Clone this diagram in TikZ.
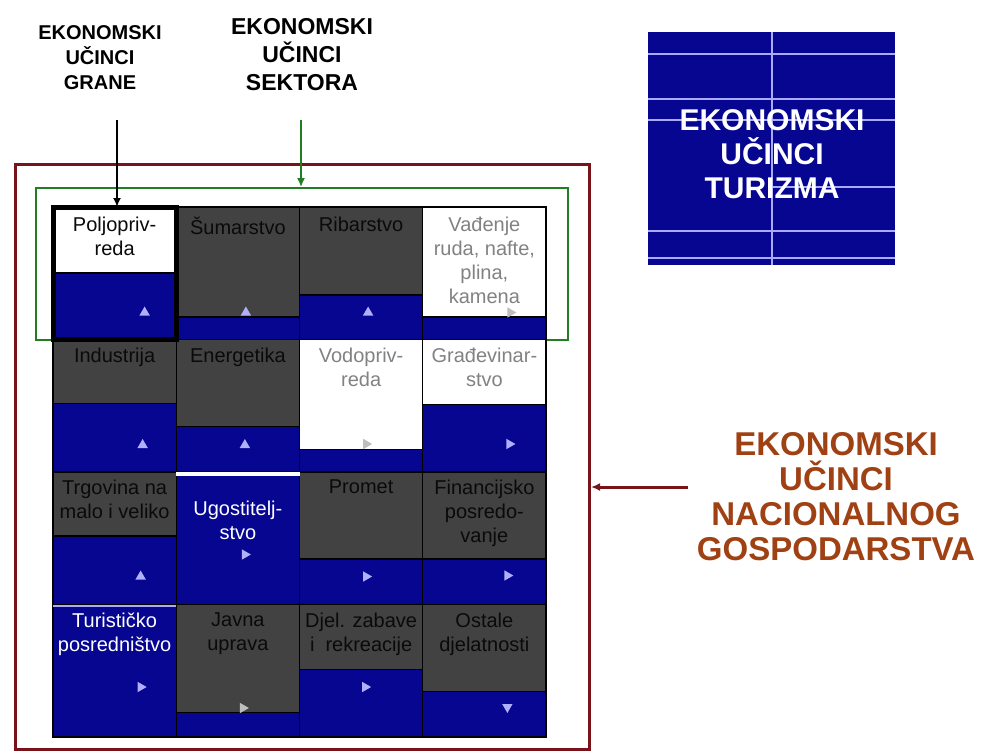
\documentclass[tikz,border=0pt]{standalone}
\usepackage{fontspec}
\setmainfont{Liberation Sans}
\usetikzlibrary{positioning,shapes.geometric,arrows.meta}
\definecolor{navyblue}{RGB}{6,6,145}
\definecolor{cellgray}{RGB}{66,66,66}
\definecolor{tipblue}{RGB}{175,175,250}
\definecolor{tipgray}{RGB}{190,190,190}
\definecolor{framered}{RGB}{120,20,25}
\definecolor{framegreen}{RGB}{35,125,35}
\definecolor{titlebrown}{RGB}{160,65,20}
\definecolor{darktext}{RGB}{10,10,10}
\definecolor{paletext}{RGB}{130,130,130}
\definecolor{linelavender}{RGB}{170,170,250}
\tikzset{
    cellnode/.style={
        rectangle,
        draw=black,
        line width=1.2pt,
        fill=navyblue,
        minimum width=123.25pt,
        minimum height=132.5pt,
        inner sep=0,
        outer sep=0
    },
    graynode/.style={
        rectangle,
        draw=black,
        line width=1.2pt,
        fill=cellgray,
        minimum width=123.25pt,
        inner sep=0,
        outer sep=0,
        anchor=north
    },
    whitenode/.style={
        graynode,
        fill=white
    },
    labelnode/.style={
        anchor=north,
        align=center,
        inner sep=0,
        text=darktext,
        font=\fontsize{20}{24}\selectfont
    },
    palelabel/.style={labelnode, text=paletext},
    brightlabel/.style={labelnode, text=white},
    tipnode/.style={
        regular polygon,
        regular polygon sides=3,
        fill=tipblue,
        minimum size=12pt,
        inner sep=0
    },
    tipright/.style={tipnode, shape border rotate=-90},
    tipdown/.style={tipnode, shape border rotate=180},
    headnode/.style={
        align=center,
        inner sep=0,
        font=\bfseries
    }
}

\begin{document}
\begin{tikzpicture}[x=1pt, y=-1pt, >={Latex[length=9pt,width=8pt]}]
\useasboundingbox (0,0) rectangle (982,753);

% okviri
\node[draw=framered, line width=3pt, minimum width=574pt, minimum height=585pt,
      inner sep=0, anchor=north west] (econ) at (14,163) {};
\node[draw=framegreen, line width=2pt, minimum width=532pt, minimum height=152pt,
      inner sep=0, anchor=north west] (sector) at (35,187) {};

% mreza djelatnosti
\node[cellnode, anchor=north west] (c11) at (53,207) {};
\node[cellnode, right=0pt of c11] (c12) {};
\node[cellnode, right=0pt of c12] (c13) {};
\node[cellnode, right=0pt of c13] (c14) {};
\node[cellnode, below=0pt of c11] (c21) {};
\node[cellnode, right=0pt of c21] (c22) {};
\node[cellnode, right=0pt of c22] (c23) {};
\node[cellnode, right=0pt of c23] (c24) {};
\node[cellnode, below=0pt of c21] (c31) {};
\node[cellnode, right=0pt of c31] (c32) {};
\node[cellnode, right=0pt of c32] (c33) {};
\node[cellnode, right=0pt of c33] (c34) {};
\node[cellnode, below=0pt of c31] (c41) {};
\node[cellnode, right=0pt of c41] (c42) {};
\node[cellnode, right=0pt of c42] (c43) {};
\node[cellnode, right=0pt of c43] (c44) {};

\node[whitenode, minimum height=66pt] (g11) at (c11.north) {};
\node[graynode, minimum height=110pt] (g12) at (c12.north) {};
\node[graynode, minimum height=88pt] (g13) at (c13.north) {};
\node[whitenode, minimum height=110pt] (g14) at (c14.north) {};
\node[graynode, minimum height=64pt] (g21) at (c21.north) {};
\node[graynode, minimum height=87pt] (g22) at (c22.north) {};
\node[whitenode, minimum height=110pt] (g23) at (c23.north) {};
\node[whitenode, minimum height=65pt] (g24) at (c24.north) {};
\node[graynode, minimum height=64pt] (g31) at (c31.north) {};
\node[graynode, minimum height=87pt] (g33) at (c33.north) {};
\node[graynode, minimum height=87pt] (g34) at (c34.north) {};
\node[graynode, minimum height=108pt] (g42) at (c42.north) {};
\node[graynode, minimum height=65pt] (g43) at (c43.north) {};
\node[graynode, minimum height=87pt] (g44) at (c44.north) {};
\draw[white, line width=4pt] ([yshift=-2pt]c32.north west) -- ([yshift=-2pt]c32.north east);
\draw[linelavender, line width=2.5pt] ([yshift=-1.5pt]c41.north west) -- ([yshift=-1.5pt]c41.north east);

\node[labelnode] (l11) at ([yshift=-10pt]c11.north) {Poljopriv-\\reda};
\node[labelnode] (l12) at ([yshift=-10pt]c12.north) {Šumarstvo};
\node[labelnode] (l13) at ([yshift=-10pt]c13.north) {Ribarstvo};
\node[palelabel] (l14) at ([yshift=-10pt]c14.north) {Vađenje\\ruda, nafte,\\plina,\\kamena};
\node[labelnode] (l21) at ([yshift=-8pt]c21.north) {Industrija};
\node[labelnode] (l22) at ([yshift=-8pt]c22.north) {Energetika};
\node[palelabel] (l23) at ([yshift=-8pt]c23.north) {Vodopriv-\\reda};
\node[palelabel] (l24) at ([yshift=-8pt]c24.north) {Građevinar-\\stvo};
\node[labelnode] (l31) at ([yshift=-8pt]c31.north) {Trgovina na\\malo i veliko};
\node[brightlabel] (l32) at ([yshift=-29pt]c32.north) {Ugostitelj-\\stvo};
\node[labelnode] (l33) at ([yshift=-8pt]c33.north) {Promet};
\node[labelnode] (l34) at ([yshift=-8pt]c34.north) {Financijsko\\posredo-\\vanje};
\node[brightlabel] (l41) at ([yshift=-8pt]c41.north) {Turističko\\posredništvo};
\node[labelnode] (l42) at ([yshift=-8pt]c42.north) {Javna\\uprava};
\node[labelnode] (l43) at ([yshift=-8pt]c43.north) {Djel. zabave\\i~ rekreacije};
\node[labelnode] (l44) at ([yshift=-8pt]c44.north) {Ostale\\djelatnosti};

\node[tipnode] (t11) at ([xshift=30pt,yshift=27pt]c11.south) {};
\node[tipnode] (t12) at ([xshift=8pt,yshift=27pt]c12.south) {};
\node[tipnode] (t13) at ([xshift=7pt,yshift=27pt]c13.south) {};
\node[tipright, fill=tipgray] (t14) at ([xshift=26pt,yshift=27pt]c14.south) {};
\node[tipnode] (t21) at ([xshift=28pt,yshift=27pt]c21.south) {};
\node[tipnode] (t22) at ([xshift=7pt,yshift=27pt]c22.south) {};
\node[tipright, fill=tipgray] (t23) at ([xshift=5pt,yshift=28pt]c23.south) {};
\node[tipright] (t24) at ([xshift=25pt,yshift=28pt]c24.south) {};
\node[tipnode] (t31) at ([xshift=26pt,yshift=28pt]c31.south) {};
\node[tipright] (t32) at ([xshift=7pt,yshift=50pt]c32.south) {};
\node[tipright] (t33) at ([xshift=5pt,yshift=28pt]c33.south) {};
\node[tipright] (t34) at ([xshift=23pt,yshift=29pt]c34.south) {};
\node[tipright] (t41) at ([xshift=26pt,yshift=50pt]c41.south) {};
\node[tipright, fill=tipgray] (t42) at ([xshift=5pt,yshift=29pt]c42.south) {};
\node[tipright] (t43) at ([xshift=4pt,yshift=50pt]c43.south) {};
\node[tipdown] (t44) at ([xshift=23pt,yshift=30pt]c44.south) {};

\draw[line width=5pt] (c11.north west) rectangle (c11.south east);

% naslovi i strelice
\node[headnode, font=\bfseries\fontsize{20}{25}\selectfont] (grane) at (100,58)
    {EKONOMSKI\\UČINCI\\GRANE};
\node[headnode, font=\bfseries\fontsize{23}{28}\selectfont] (sektor) at (302,55)
    {EKONOMSKI\\UČINCI\\SEKTORA};
\node[headnode, text=titlebrown, font=\bfseries\fontsize{33}{35}\selectfont] (gospodarstvo) at (836,497)
    {EKONOMSKI\\UČINCI\\NACIONALNOG\\GOSPODARSTVA};

\coordinate (granetail) at (117,120);
\coordinate (sektortail) at (301,120);
\coordinate (gosptail) at (688,487);
\draw[->, line width=2pt] (granetail) -- (granetail |- c11.north);
\draw[->, framegreen, line width=1.5pt] (sektortail) -- (sektortail |- sector.north);
\draw[->, framered, line width=3pt] (gosptail) -- (gosptail -| econ.east);

% turizam
\node[fill=navyblue, minimum width=247pt, minimum height=233pt, inner sep=0,
      anchor=north west] (turbox) at (648,32) {};
\draw[linelavender, line width=2pt]
    (turbox.north) -- (turbox.south)
    (648,54) -- (895,54)
    (648,99) -- (895,99)
    (648,120) -- (895,120)
    (773,187) -- (895,187)
    (648,231) -- (895,231)
    (648,258) -- (895,258);
\node[headnode, text=white, font=\bfseries\fontsize{30}{34}\selectfont] (turizam) at (772,154)
    {EKONOMSKI\\UČINCI\\TURIZMA};
\end{tikzpicture}
\end{document}
